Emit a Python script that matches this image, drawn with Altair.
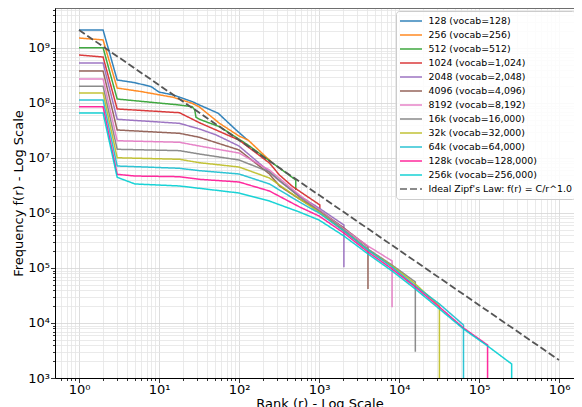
import altair as alt
import pandas as pd

# ---------------- data ----------------
labels = [
    "128 (vocab=128)", "256 (vocab=256)", "512 (vocab=512)", "1024 (vocab=1,024)",
    "2048 (vocab=2,048)", "4096 (vocab=4,096)", "8192 (vocab=8,192)", "16k (vocab=16,000)",
    "32k (vocab=32,000)", "64k (vocab=64,000)", "128k (vocab=128,000)", "256k (vocab=256,000)",
]
zipf_label = "Ideal Zipf's Law: f(r) = C/r^1.0"
colors = ["#1f77b4", "#ff7f0e", "#2ca02c", "#d62728", "#9467bd", "#8c564b",
          "#e377c2", "#7f7f7f", "#bcbd22", "#17becf", "#ff1493", "#00ced1"]
zipf_color = "#555555"

r_128 = [1, 2, 3, 5, 8, 10, 15, 26, 32, 55, 92, 128]
f_128 = [2.12e9, 2.12e9, 2.62e8, 2.34e8, 1.98e8, 1.58e8, 1.40e8, 1.06e8, 9.2e7, 6.5e7, 3.23e7, 2.12e7]

r_256 = [1, 2, 3, 6, 15, 26, 32, 57, 100, 130, 218, 256]
f_256 = [1.52e9, 1.40e9, 1.87e8, 1.61e8, 1.27e8, 9.87e7, 8.46e7, 4.27e7, 2.51e7, 2.12e7, 1.04e7, 8.46e6]

r_512 = [1, 2, 3, 18, 26, 28, 29, 32, 57, 130, 218, 512, 512]
f_512 = [1.01e9, 1.01e9, 1.18e8, 9.2e7, 8.56e7, 7.46e7, 5.5e7, 5.05e7, 3.71e7, 1.72e7, 9.87e6, 3.98e6, 2.62e6]

r_1024 = [1, 2, 3, 18, 32, 100, 240, 320, 470, 1024, 1024]
f_1024 = [7.46e8, 6.86e8, 7.78e7, 6.66e7, 4.38e7, 2.12e7, 8.11e6, 4.91e6, 3.01e6, 1.40e6, 1.2e6]

r_2048 = [1, 2, 3, 18, 32, 52, 100, 240, 320, 570, 1000, 2048, 2048]
f_2048 = [5.34e8, 5.34e8, 5.05e7, 4.27e7, 3.37e7, 2.62e7, 1.65e7, 5.57e6, 3.82e6, 2.04e6, 1.23e6, 6.05e5, 1.03e5]

r_4096 = [1, 2, 3, 18, 32, 100, 240, 320, 570, 1000, 2048, 4096, 4096]
f_4096 = [3.82e8, 3.82e8, 3.23e7, 2.81e7, 2.38e7, 1.40e7, 5.12e6, 3.10e6, 1.80e6, 1.13e6, 5.34e5, 2.44e5, 4.15e4]

r_8192 = [1, 2, 3, 18, 32, 100, 240, 570, 1000, 2048, 4096, 8192, 8192]
f_8192 = [2.73e8, 2.73e8, 2.06e7, 1.93e7, 1.65e7, 1.23e7, 6.05e6, 2.12e6, 1.13e6, 5.12e5, 2.51e5, 1.34e5, 1.93e4]

r_16k = [1, 2, 3, 18, 32, 100, 240, 570, 1000, 2048, 4096, 8192, 16000, 16000]
f_16k = [2.01e8, 2.01e8, 1.44e7, 1.36e7, 1.18e7, 9.2e6, 5.57e6, 1.95e6, 1.09e6, 4.91e5, 2.21e5, 1.13e5, 5.57e4, 3.01e3]

r_32k = [1, 2, 3, 18, 32, 100, 240, 570, 1000, 2048, 4096, 8192, 16000, 32000, 32000]
f_32k = [1.52e8, 1.52e8, 1.01e7, 9.47e6, 8.21e6, 6.86e6, 4.33e6, 1.80e6, 1.04e6, 4.71e5, 2.12e5, 1.09e5, 5.12e4, 2.04e4, 100]

r_64k = [1, 2, 3, 18, 32, 100, 240, 570, 1000, 2048, 4096, 8192, 16000, 32000, 64000, 64000]
f_64k = [1.13e8, 1.13e8, 7.15e6, 6.50e6, 5.88e6, 5.12e6, 3.37e6, 1.58e6, 1.00e6, 4.71e5, 2.12e5, 1.04e5, 4.71e4, 2.22e4, 9.2e3, 100]

r_128k = [1, 2, 3, 5, 18, 32, 100, 240, 570, 1000, 2048, 4096, 8192, 16000, 32000, 64000, 128000, 128000]
f_128k = [8.56e7, 8.56e7, 5.05e6, 4.7e6, 4.57e6, 4.10e6, 3.66e6, 2.51e6, 1.29e6, 8.82e5, 4.33e5, 1.95e5, 9.59e4, 4.51e4, 1.95e4, 8.11e3, 3.98e3, 100]

r_256k = [1, 2, 3, 5, 18, 32, 100, 240, 570, 1000, 2048, 4096, 8192, 16000, 32000, 64000, 128000, 256000, 256000]
f_256k = [6.58e7, 6.58e7, 4.46e6, 3.37e6, 3.10e6, 2.81e6, 2.31e6, 1.65e6, 1.04e6, 7.46e5, 3.82e5, 1.80e5, 8.82e4, 4.15e4, 1.80e4, 7.78e3, 3.82e3, 1.80e3, 100]

zipf_r = [1, 1e6]
zipf_f = [2.12e9, 2.12e3]

ranks = [r_128, r_256, r_512, r_1024, r_2048, r_4096, r_8192, r_16k, r_32k, r_64k, r_128k, r_256k]
freqs = [f_128, f_256, f_512, f_1024, f_2048, f_4096, f_8192, f_16k, f_32k, f_64k, f_128k, f_256k]

rows = []
for lab, rk, fq in zip(labels, ranks, freqs):
    for j, (r, f) in enumerate(zip(rk, fq)):
        rows.append({"series": lab, "rank": r, "freq": f, "idx": j})
df = pd.DataFrame(rows)
zdf = pd.DataFrame({"series": zipf_label, "rank": zipf_r, "freq": zipf_f, "idx": [0, 1]})

# ---------------- layout ----------------
W, H = 519, 370
x_dom = [10 ** -0.3, 10 ** (-0.3 + W / 80)]
y_dom = [1e3, 10 ** 9.727]

x_ticks = [k * 10 ** d for d in range(-1, 7) for k in range(1, 10)
           if x_dom[0] <= k * 10 ** d <= x_dom[1]]
y_ticks = [float(k * 10 ** d) for d in range(3, 10) for k in range(1, 10)
           if k * 10 ** d <= y_dom[1]]

major = "abs(log(datum.value)/LN10 - round(log(datum.value)/LN10)) < 1e-6"
sup = "['\u2070','\u00b9','\u00b2','\u00b3','\u2074','\u2075','\u2076','\u2077','\u2078','\u2079']"
label_expr = f"({major}) ? '10' + {sup}[round(log(datum.value)/LN10)] : ''"

FONT = "DejaVu Sans"

def axis_common(**kw):
    base = dict(
        labelExpr=label_expr,
        labelFont=FONT, labelFontSize=13, labelColor="black",
        labelOverlap=False, labelFlush=False, labelPadding=1,
        tickColor="black", tickWidth=0.8,
        tickSize={"condition": {"test": major, "value": 4.5}, "value": 2.5},
        domainColor="black", domainWidth=1,
        grid=True, gridWidth=0.8,
        gridColor={"condition": {"test": major, "value": "#d4d4d4"}, "value": "#e4e4e4"},
        titleFont=FONT, titleFontSize=13, titleFontWeight="normal", titleColor="black",
    )
    base.update(kw)
    return base

x_axis = alt.Axis(**axis_common(values=x_ticks, title="Rank (r) - Log Scale",
                                titleX=264.5, titleY=19, titleBaseline="top", titleAlign="center"))
y_axis = alt.Axis(**axis_common(values=y_ticks, title="Frequency f(r) - Log Scale",
                                titleX=-36.7, titleY=185, titleAngle=270,
                                titleBaseline="middle", titleAlign="center"))

domain_all = labels + [zipf_label]
color_scale = alt.Scale(domain=domain_all, range=colors + [zipf_color])
dash_scale = alt.Scale(domain=domain_all, range=[[1, 0]] * len(labels) + [[7, 3]])

legend = alt.Legend(
    title=None, orient="none", legendX=341, legendY=3,
    fillColor="rgba(255,255,255,0.85)", strokeColor="#cccccc", cornerRadius=3, padding=3,
    labelFont=FONT, labelFontSize=9.4, labelColor="black", labelLimit=0, labelOffset=5.5,
    symbolType="stroke", symbolSize=484, symbolStrokeWidth=1.5,
    clipHeight=13.8, rowPadding=0,
)

x_enc = alt.X("rank:Q", scale=alt.Scale(type="log", domain=x_dom, nice=False), axis=x_axis)
y_enc = alt.Y("freq:Q", scale=alt.Scale(type="log", domain=y_dom, nice=False), axis=y_axis)
color_enc = alt.Color("series:N", scale=color_scale, legend=legend)
dash_enc = alt.StrokeDash("series:N", scale=dash_scale, legend=legend)

lines = alt.Chart(df).mark_line(strokeWidth=1.5, opacity=0.9, clip=True).encode(
    x=x_enc, y=y_enc, color=color_enc, strokeDash=dash_enc, order="idx:Q"
)
zipf = alt.Chart(zdf).mark_line(strokeWidth=1.8, clip=True).encode(
    x=x_enc, y=y_enc, color=color_enc, strokeDash=dash_enc, order="idx:Q"
)
top_spine = alt.Chart(pd.DataFrame({"a": [0]})).mark_rule(color="black", strokeWidth=1).encode(
    x=alt.value(0), x2=alt.value(W), y=alt.value(0)
)

chart = alt.layer(lines, zipf, top_spine).properties(
    width=W, height=H,
    padding={"left": 47, "top": 0, "right": 0, "bottom": 29},
    autosize=alt.AutoSizeParams(type="none"),
).configure_view(stroke=None).configure(background="white")

chart.save("out.html", embed_options={"renderer": "svg", "actions": False})
